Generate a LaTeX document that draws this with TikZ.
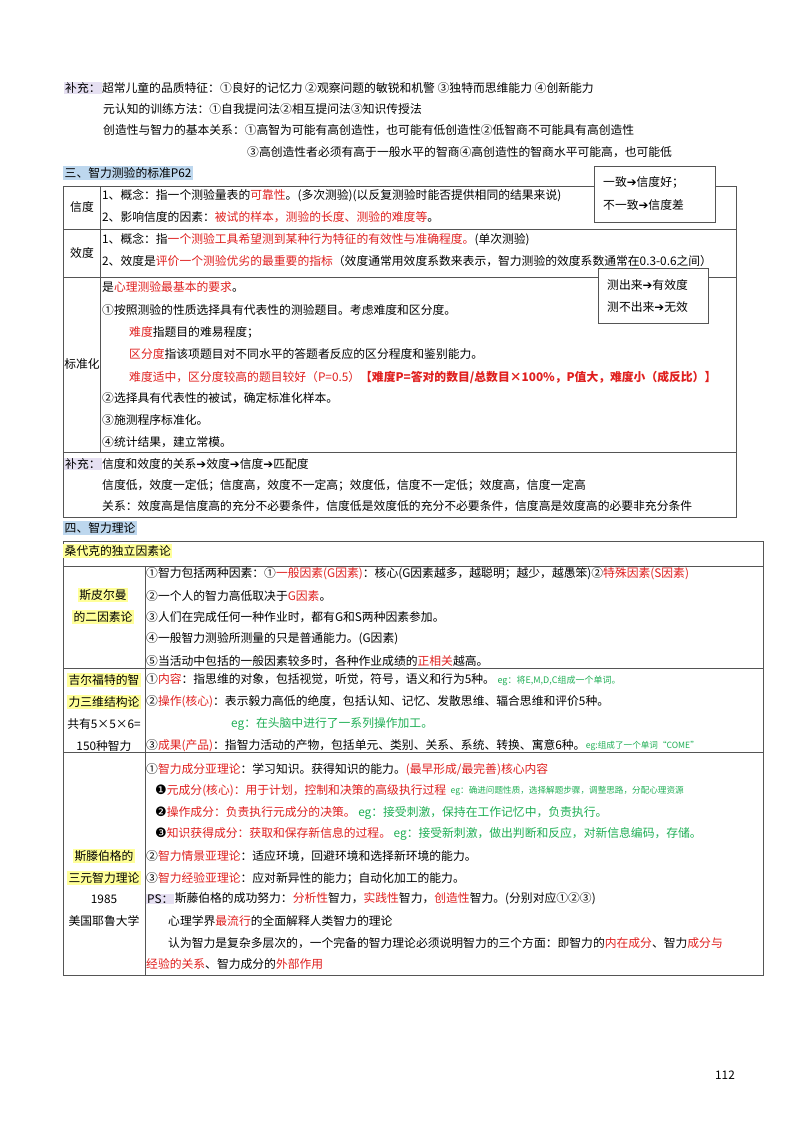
\documentclass[tikz,border=0pt]{standalone}
\usepackage{fontspec}
\setmainfont{Noto Sans CJK SC}
\newfontfamily\symf{DejaVu Sans}
\usetikzlibrary{positioning}
\definecolor{hlred}{HTML}{E0201F}
\definecolor{hlgreen}{HTML}{1FAF55}
\definecolor{bglav}{HTML}{E6E0F2}
\definecolor{bgblue}{HTML}{BDD7EE}
\definecolor{bgyel}{HTML}{FFFF99}
\definecolor{rule}{HTML}{555555}
\newcommand{\rd}[1]{\textcolor{hlred}{#1}}
\newcommand{\gr}[1]{\textcolor{hlgreen}{#1}}
\newcommand{\ar}{{\symf\char"2794}}
\newcommand{\dn}[1]{{\symf\fontsize{13}{13}\selectfont #1}}
\tikzset{
  txt/.style={anchor=west,inner sep=0pt,font=\fontsize{11.8}{13}\selectfont},
  mid/.style={inner sep=0pt,font=\fontsize{11.8}{13}\selectfont},
  tag/.style={txt,inner sep=1pt,fill=bglav},
  sec/.style={txt,inner sep=1.5pt,fill=bgblue},
  yel/.style={mid,inner sep=1.5pt,fill=bgyel},
  small/.style={txt,font=\fontsize{8.6}{10}\selectfont},
  frame/.style={draw=rule,line width=0.6pt}
}
\begin{document}
\begin{tikzpicture}[x=1pt,y=-1pt]
\useasboundingbox[fill=white] (0,0) rectangle (800,1130);
% supplement at top
\node[tag] (bc1) at (64,88) {补充：};
\node[txt,right=0pt of bc1] (t1) {超常儿童的品质特征：①良好的记忆力 ②观察问题的敏锐和机警 ③独特而思维能力 ④创新能力};
\node[txt] (t2) at (103,109) {元认知的训练方法：①自我提问法②相互提问法③知识传授法};
\node[txt] (t3) at (103,130) {创造性与智力的基本关系：①高智为可能有高创造性，也可能有低创造性②低智商不可能具有高创造性};
\node[txt] (t4) at (247,152) {③高创造性者必须有高于一般水平的智商④高创造性的智商水平可能高，也可能低};
% section three
\node[sec] (s3) at (63,173) {三、智力测验的标准P62};
\draw[frame] (63,186) rectangle (736,517);
\draw[frame] (63,229) -- (736,229) (63,277) -- (736,277) (63,452) -- (736,452);
\draw[frame] (100,186) -- (100,452);
\node[mid] (xd) at (82,207) {信度};
\node[txt] (xd1) at (102,196) {1、概念：指一个测验量表的\rd{可靠性}。(多次测验)(以反复测验时能否提供相同的结果来说)};
\node[txt] (xd2) at (102,217) {2、影响信度的因素：\rd{被试的样本，测验的长度、测验的难度等}。};
\node[mid] (xo) at (82,253) {效度};
\node[txt] (xo1) at (102,240) {1、概念：指\rd{一个测验工具希望测到某种行为特征的有效性与准确程度。}(单次测验)};
\node[txt] (xo2) at (102,261) {2、效度是\rd{评价一个测验优劣的最重要的指标}（效度通常用效度系数来表示，智力测验的效度系数通常在0.3-0.6之间）};
\node[mid] (bz) at (82,364) {标准化};
\node[txt] (bz1) at (102,287) {是\rd{心理测验最基本的要求}。};
\node[txt] (bz2) at (102,310) {①按照测验的性质选择具有代表性的测验题目。考虑难度和区分度。};
\node[txt] (bz3) at (129,332) {\rd{难度}指题目的难易程度；};
\node[txt] (bz4) at (129,354) {\rd{区分度}指该项题目对不同水平的答题者反应的区分程度和鉴别能力。};
\node[txt] (bz5) at (129,377) {\rd{难度适中，区分度较高的题目较好（P=0.5）\textbf{【难度P=答对的数目/总数目×100\%，P值大，难度小（成反比）】}}};
\node[txt] (bz6) at (102,398) {②选择具有代表性的被试，确定标准化样本。};
\node[txt] (bz7) at (102,420) {③施测程序标准化。};
\node[txt] (bz8) at (102,442) {④统计结果，建立常模。};
\node[tag] (bc2) at (64,464) {补充：};
\node[txt,right=0pt of bc2] (r1) {信度和效度的关系\ar 效度\ar 信度\ar 匹配度};
\node[txt] (r2) at (102,485) {信度低，效度一定低；信度高，效度不一定高；效度低，信度不一定低；效度高，信度一定高};
\node[txt] (r3) at (102,506) {关系：效度高是信度高的充分不必要条件，信度低是效度低的充分不必要条件，信度高是效度高的必要非充分条件};
% side boxes
\draw[frame,fill=white] (594,166) rectangle (715,222);
\node[txt] (b1) at (603,182) {一致\ar 信度好；};
\node[txt] (b2) at (603,205) {不一致\ar 信度差};
\draw[frame,fill=white] (598,268) rectangle (708,323);
\node[txt] (b3) at (607,285) {测出来\ar 有效度};
\node[txt] (b4) at (607,307) {测不出来\ar 无效};
% section four
\node[sec] (s4) at (63,528) {四、智力理论};
\draw[frame] (63,541) rectangle (763,975);
\draw[frame] (63,566) -- (763,566) (63,668) -- (763,668) (63,752) -- (763,752);
\draw[frame] (145,566) -- (145,975);
\node[txt,inner sep=1.5pt,fill=bgyel] (sd) at (63,551) {桑代克的独立因素论};
\node[yel] (sp1) at (103,595) {斯皮尔曼};
\node[yel] (sp2) at (103,617) {的二因素论};
\node[txt] (p1) at (146,574) {①智力包括两种因素：①\rd{一般因素(G因素)}：核心(G因素越多，越聪明；越少，越愚笨)②\rd{特殊因素(S因素)}};
\node[txt] (p2) at (146,596) {②一个人的智力高低取决于\rd{G因素}。};
\node[txt] (p3) at (146,617) {③人们在完成任何一种作业时，都有G和S两种因素参加。};
\node[txt] (p4) at (146,639) {④一般智力测验所测量的只是普通能力。(G因素)};
\node[txt] (p5) at (146,661) {⑤当活动中包括的一般因素较多时，各种作业成绩的\rd{正相关}越高。};
\node[yel] (gf1) at (104,680) {吉尔福特的智};
\node[yel] (gf2) at (104,702) {力三维结构论};
\node[mid] (gf3) at (104,724) {共有5×5×6=};
\node[mid] (gf4) at (104,746) {150种智力};
\node[txt] (g1) at (146,680) {①\rd{内容}：指思维的对象，包括视觉，听觉，符号，语义和行为5种。 \gr{\small eg：将E,M,D,C组成一个单词。}};
\node[txt] (g2) at (146,702) {②\rd{操作(核心)}：表示毅力高低的绝度，包括认知、记忆、发散思维、辐合思维和评价5种。};
\node[txt] (g3) at (231,724) {\gr{eg：在头脑中进行了一系列操作加工。}};
\node[txt] (g4) at (146,746) {③\rd{成果(产品)}：指智力活动的产物，包括单元、类别、关系、系统、转换、寓意6种。};
\node[small,right=0pt of g4] (g5) {\gr{eg:组成了一个单词“COME”}};
\node[yel] (st1) at (104,856) {斯滕伯格的};
\node[yel] (st2) at (104,878) {三元智力理论};
\node[mid] (st3) at (104,899) {1985};
\node[mid] (st4) at (104,921) {美国耶鲁大学};
\node[txt] (q1) at (146,770) {①\rd{智力成分亚理论}：学习知识。获得知识的能力。\rd{(最早形成/最完善)核心内容}};
\node[txt] (q2) at (155,791) {\dn{❶}\rd{元成分(核心)：用于计划，控制和决策的高级执行过程}};
\node[small,right=4pt of q2] (q2e) {\gr{eg：确进问题性质，选择解题步骤，调整思路，分配心理资源}};
\node[txt] (q3) at (155,813) {\dn{❷}\rd{操作成分：负责执行元成分的决策。} \gr{eg：接受刺激，保持在工作记忆中，负责执行。}};
\node[txt] (q4) at (155,834) {\dn{❸}\rd{知识获得成分：获取和保存新信息的过程。} \gr{eg：接受新刺激，做出判断和反应，对新信息编码，存储。}};
\node[txt] (q5) at (146,856) {②\rd{智力情景亚理论}：适应环境，回避环境和选择新环境的能力。};
\node[txt] (q6) at (146,878) {③\rd{智力经验亚理论}：应对新异性的能力；自动化加工的能力。};
\node[tag] (ps) at (146,899) {PS：};
\node[txt,right=0pt of ps] (q7) {斯藤伯格的成功努力：\rd{分析性}智力，\rd{实践性}智力，\rd{创造性}智力。(分别对应①②③)};
\node[txt] (q8) at (168,921) {心理学界\rd{最流行}的全面解释人类智力的理论};
\node[txt] (q9) at (168,943) {认为智力是复杂多层次的，一个完备的智力理论必须说明智力的三个方面：即智力的\rd{内在成分}、智力\rd{成分与}};
\node[txt] (q10) at (146,964) {\rd{经验的关系}、智力成分的\rd{外部作用}};
\node[mid] (pg) at (725,1075) {112};
\end{tikzpicture}
\end{document}
